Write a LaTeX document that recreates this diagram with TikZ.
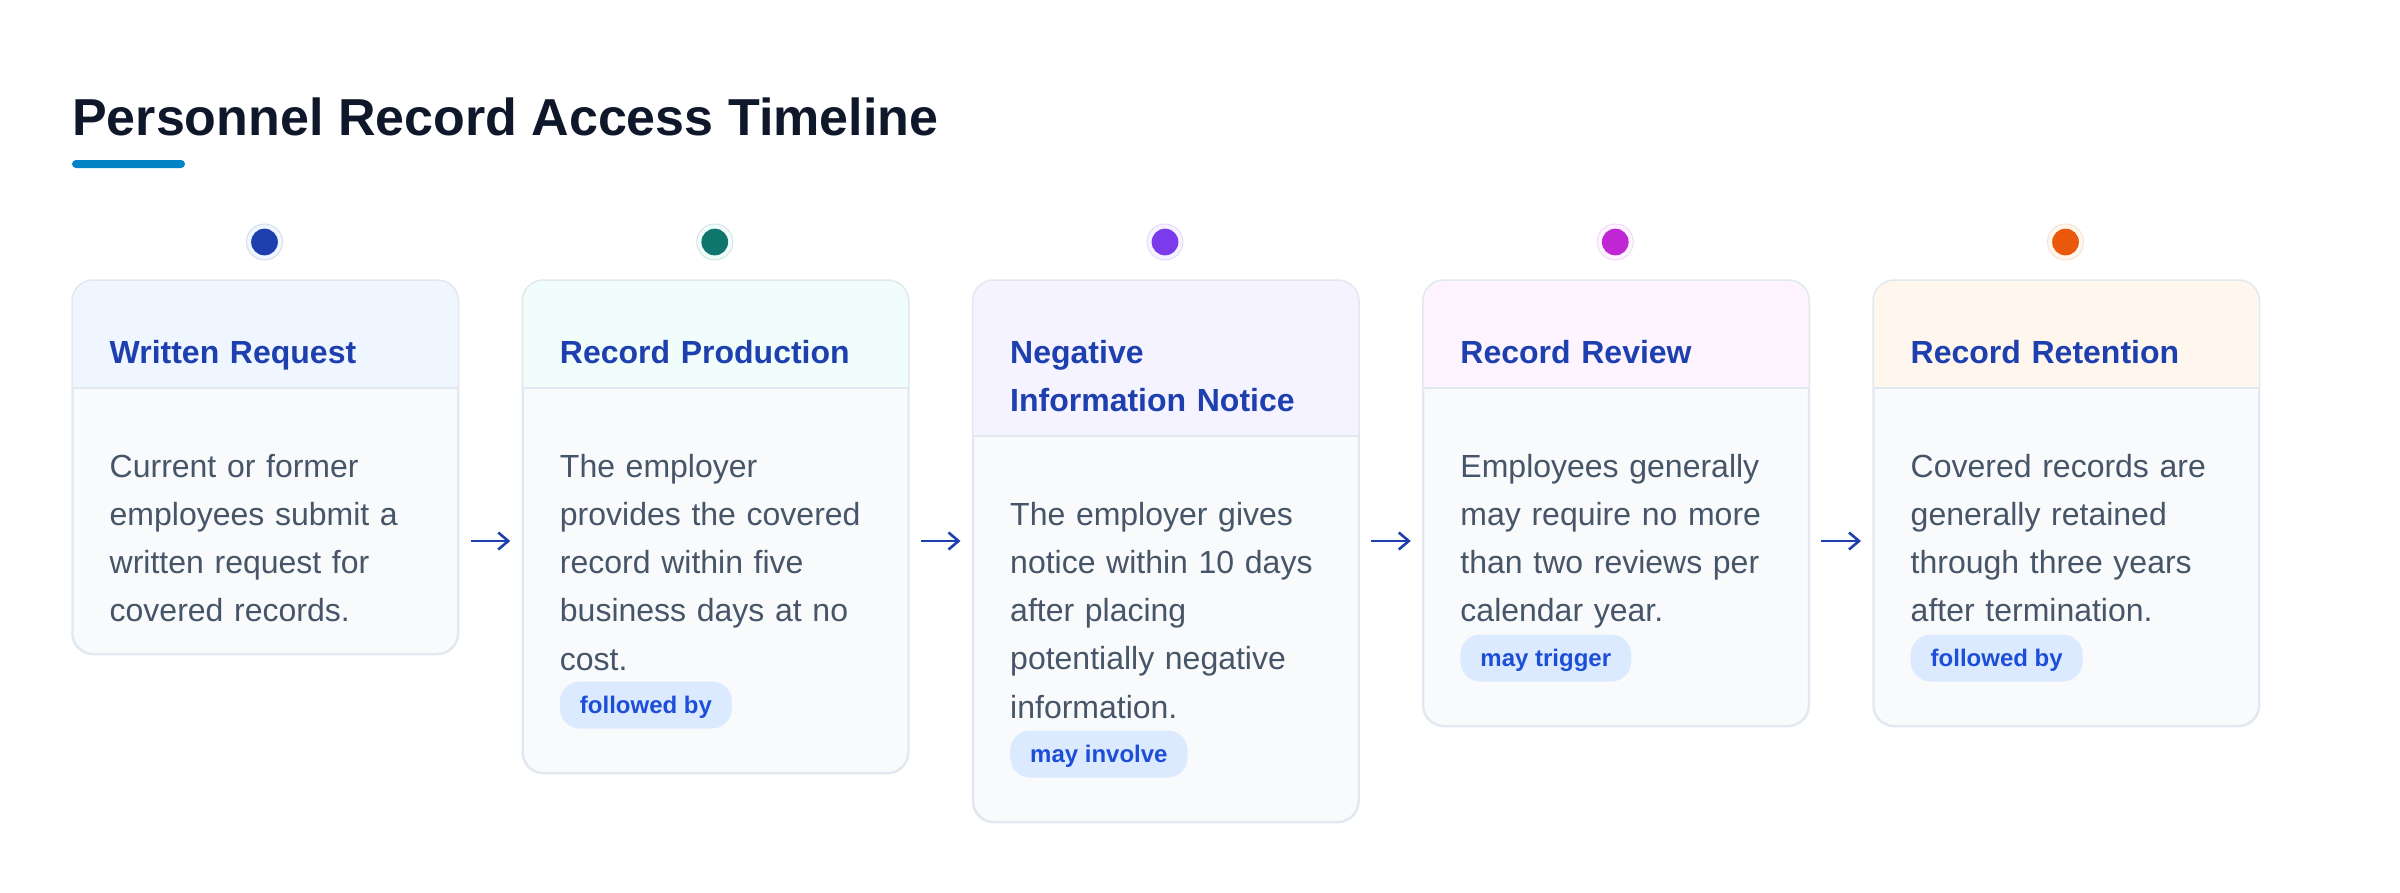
\documentclass[tikz,border=0pt]{standalone}
\usepackage{fontspec}
\setmainfont{Liberation Sans}
\usetikzlibrary{calc,arrows.meta}
\definecolor{titlec}{HTML}{0F172A}
\definecolor{accent}{HTML}{0284C7}
\definecolor{hdtextc}{HTML}{1E40AF}
\definecolor{bodyc}{HTML}{475569}
\definecolor{borderc}{HTML}{E2E8F0}
\definecolor{bodyfill}{HTML}{F8FAFC}
\definecolor{pillfill}{HTML}{DBEAFE}
\definecolor{pilltext}{HTML}{1D4ED8}
\definecolor{arrowc}{HTML}{1E40AF}
\definecolor{hdA}{HTML}{EFF6FF}
\definecolor{hdB}{HTML}{F0FDFA}
\definecolor{hdC}{HTML}{F5F3FF}
\definecolor{hdD}{HTML}{FDF4FF}
\definecolor{hdE}{HTML}{FFF7ED}
\definecolor{dotA}{HTML}{1E40AF}
\definecolor{dotB}{HTML}{0F766E}
\definecolor{dotC}{HTML}{7C3AED}
\definecolor{dotD}{HTML}{C026D3}
\definecolor{dotE}{HTML}{EA580C}
\tikzset{
  stagecard/.style={draw=borderc, line width=1.5pt, fill=bodyfill, rounded corners=21pt,
    minimum width=385pt, inner sep=0pt, anchor=north west},
  cardborder/.style={draw=borderc, line width=1.5pt, rounded corners=21pt},
  sepline/.style={draw=borderc, line width=1.5pt},
  hdtext/.style={text=hdtextc, font=\bfseries\fontsize{32}{48}\selectfont, text width=320pt,
    align=left, inner sep=0pt, anchor=base west},
  bodytext/.style={text=bodyc, font=\fontsize{32}{48.3}\selectfont, text width=320pt,
    align=left, inner sep=0pt, anchor=base west},
  pill/.style={fill=pillfill, text=pilltext, font=\bfseries\fontsize{24}{28}\selectfont,
    rounded corners=20pt, minimum height=47pt, inner xsep=20pt, inner ysep=0pt,
    text height=21.7pt, text depth=5.1pt, anchor=west},
  arr/.style={draw=arrowc, line width=2.6pt, -{Straight Barb[length=10pt,width=17pt,line width=2.6pt]},
    shorten <=12pt, shorten >=12pt},
  titletext/.style={text=titlec, font=\bfseries\fontsize{52}{60}\selectfont, inner sep=0pt, anchor=base west}
}
% #1 name, #2 left x, #3 height, #4 separator y, #5 header colour, #6 dot colour,
% #7 header text, #8 body text, #9 pill text
\newcommand\stagebox[9]{%
  \node[stagecard, minimum height=#3pt] (#1) at (#2,280) {};
  \begin{scope}
    \clip[rounded corners=21pt] (#1.north west) rectangle (#1.south east);
    \fill[#5] (#1.north west) rectangle ($(#1.north east)+(0,#4-280)$);
  \end{scope}
  \draw[sepline] ($(#1.north west)+(0,#4-280)$) -- ($(#1.north east)+(0,#4-280)$);
  \draw[cardborder] (#1.north west) rectangle (#1.south east);
  \fill[#5, draw=#6!18, line width=1pt] ({#2+192.5},242) circle (18pt);
  \node[circle, fill=#6, minimum size=26.7pt, inner sep=0pt] (#1dot) at ({#2+192.5},242) {};
  \node[hdtext] (#1head) at ({#2+37.5},363) {#7};
  \node[bodytext] (#1body) at ({#2+37.5},{#4+89}) {#8};
  \ifx\relax#9\relax\else
    \node[pill] (#1pill) at ({#2+37.5},{280+#3-67}) {#9};
  \fi
}
\begin{document}
\begin{tikzpicture}[x=1pt,y=-1pt]
\useasboundingbox[fill=white] (0,0) rectangle (2400,892);
\node[titletext] (title) at (72,135) {Personnel Record Access Timeline};
\fill[accent, rounded corners=4pt] (72,160) rectangle (185,168);

\stagebox{b1}{72}{373}{388}{hdA}{dotA}{Written Request}
  {Current or former\\employees submit a\\written request for\\covered records.}{}
\stagebox{b2}{522.25}{492}{388}{hdB}{dotB}{Record Production}
  {The employer\\provides the covered\\record within five\\business days at no\\cost.}{followed by}
\stagebox{b3}{972.5}{541}{436}{hdC}{dotC}{Negative\\Information Notice}
  {The employer gives\\notice within 10 days\\after placing\\potentially negative\\information.}{may involve}
\stagebox{b4}{1422.75}{445}{388}{hdD}{dotD}{Record Review}
  {Employees generally\\may require no more\\than two reviews per\\calendar year.}{may trigger}
\stagebox{b5}{1873}{445}{388}{hdE}{dotE}{Record Retention}
  {Covered records are\\generally retained\\through three years\\after termination.}{followed by}

\coordinate (arrowrow) at (0,541);
\draw[arr] (b1.east |- arrowrow) -- (b2.west |- arrowrow);
\draw[arr] (b2.east |- arrowrow) -- (b3.west |- arrowrow);
\draw[arr] (b3.east |- arrowrow) -- (b4.west |- arrowrow);
\draw[arr] (b4.east |- arrowrow) -- (b5.west |- arrowrow);
\end{tikzpicture}
\end{document}
